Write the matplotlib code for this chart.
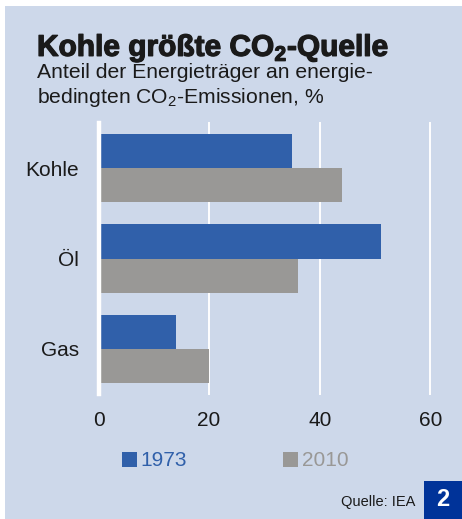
import matplotlib
matplotlib.use("Agg")
import matplotlib.pyplot as plt
from matplotlib.patches import Rectangle
import matplotlib.patheffects as pe
import numpy as np

categories = ["Kohle", "Öl", "Gas"]
years = ["1973", "2010"]
values_1973 = [35, 51, 14]
values_2010 = [44, 36, 20]
xticks = [0, 20, 40, 60]

BG = "#CDD8EA"
BLUE = "#3060AA"
GRAY = "#999896"
DARK = "#1a1a1a"

plt.rcParams['font.family'] = ['Liberation Sans', 'DejaVu Sans']
plt.rcParams['mathtext.fontset'] = 'custom'
plt.rcParams['mathtext.rm'] = 'Liberation Sans'
plt.rcParams['mathtext.bf'] = 'Liberation Sans:bold'

W, H = 462, 519
fig = plt.figure(figsize=(W / 100, H / 100), dpi=100)
fig.patch.set_facecolor("white")
# background panel
fig.patches.append(Rectangle((5 / W, 0), 1 - 5 / W, 1 - 6 / H, transform=fig.transFigure,
                             facecolor=BG, edgecolor="none", zorder=-5))

left, right = 98.5, 430.3
top, bottom = 123, 394
ax = fig.add_axes([left / W, 1 - bottom / H, (right - left) / W, (bottom - top) / H])
ax.set_facecolor("none")
ax.set_zorder(2)

y = np.arange(len(categories))
bh = 0.38
b1 = ax.barh(y - bh / 2, values_1973, height=bh, color=BLUE, label=years[0], zorder=2)
b2 = ax.barh(y + bh / 2, values_2010, height=bh, color=GRAY, label=years[1], zorder=2)

ax.set_xlim(0, 60)
ax.set_ylim(2.5, -0.5)
ax.set_xticks(xticks)
ax.set_xticklabels([str(t) for t in xticks])
ax.set_yticks(y)
ax.set_yticklabels(categories)
for t in xticks:
    ax.axvline(t, color="white", lw=3.2 if t == 0 else 1.4, zorder=3 if t == 0 else 1, clip_on=False)
for s in ax.spines.values():
    s.set_visible(False)
ax.tick_params(axis="x", length=0, pad=12, labelsize=15, labelcolor=DARK)
ax.tick_params(axis="y", length=0, pad=14, labelsize=15, labelcolor=DARK)

# title and subtitle
fig.text(37 / W, 1 - 56 / H, "Kohle größte CO$_\\mathbf{2}$-Quelle", fontsize=21.5,
         fontweight="bold", color=DARK, ha="left", va="baseline",
         path_effects=[pe.withStroke(linewidth=0.9, foreground=DARK)])
fig.text(37 / W, 1 - 78 / H, "Anteil der Energieträger an energie-", fontsize=15.2,
         color=DARK, ha="left", va="baseline")
fig.text(37 / W, 1 - 103 / H, "bedingten CO$_2$-Emissionen, %", fontsize=15.2,
         color=DARK, ha="left", va="baseline")

# legend
leg = ax.legend(handles=[b1, b2], labels=years, loc="center left",
                bbox_to_anchor=((122 - left) / (right - left), (bottom - 461) / (bottom - top)),
                ncol=2, frameon=False, fontsize=15, handlelength=0.7, handleheight=0.7,
                handletextpad=0.2, columnspacing=4.6, labelcolor=[BLUE, GRAY],
                borderaxespad=0, borderpad=0)

# source and number box
fig.text(415 / W, 1 - 502 / H, "Quelle: IEA", fontsize=10.5, color=DARK, ha="right", va="center")
fig.patches.append(Rectangle((424 / W, 0), 1 - 424 / W, 38 / H, transform=fig.transFigure,
                             facecolor="#003399", edgecolor="none", zorder=1))
fig.text(443 / W, 1 - 500 / H, "2", fontsize=17, fontweight="bold", color="white",
         ha="center", va="center")

fig.savefig("out.png", dpi=100, facecolor=fig.get_facecolor())
